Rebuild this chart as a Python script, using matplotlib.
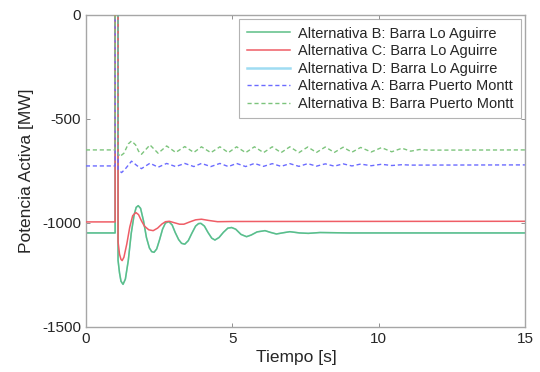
import matplotlib
matplotlib.use("Agg")
import matplotlib.pyplot as plt
from matplotlib.lines import Line2D

plt.rcParams["font.family"] = ["Liberation Sans", "DejaVu Sans"]
plt.rcParams["axes.unicode_minus"] = False

# valores (t [s], P [MW])
t_b_lo = [0, 1.0, 1.0, 1.1, 1.1, 1.15, 1.2, 1.27, 1.35, 1.45, 1.55, 1.65, 1.72, 1.79, 1.87,
          1.97, 2.07, 2.17, 2.25, 2.33, 2.42, 2.52, 2.62, 2.72, 2.84, 2.95, 3.05, 3.17, 3.27,
          3.38, 3.5, 3.62, 3.75, 3.85, 3.93, 4.05, 4.17, 4.3, 4.41, 4.55, 4.7, 4.85, 4.98,
          5.12, 5.3, 5.49, 5.65, 5.85, 6.12, 6.3, 6.51, 6.75, 6.97, 7.3, 7.6, 8.0, 9.0, 15]
p_b_lo = [-1048, -1048, 3000, 3000, -1180, -1240, -1280, -1295, -1270, -1180, -1050, -960, -925, -917, -930,
          -990, -1070, -1120, -1138, -1141, -1125, -1080, -1030, -1000, -994, -1010, -1045, -1080, -1098,
          -1102, -1085, -1050, -1015, -1003, -1002, -1015, -1045, -1073, -1082, -1070, -1045, -1025, -1022,
          -1030, -1055, -1066, -1058, -1043, -1037, -1045, -1053, -1047, -1042, -1048, -1050, -1046, -1048, -1048]

t_c_lo = [0, 1.0, 1.0, 1.1, 1.1, 1.15, 1.2, 1.24, 1.3, 1.4, 1.5, 1.6, 1.71, 1.8, 1.9, 2.0,
          2.15, 2.3, 2.45, 2.6, 2.72, 2.85, 3.0, 3.2, 3.35, 3.55, 3.75, 3.95, 4.2, 4.5, 5.0, 15]
p_c_lo = [-995, -995, 3000, 3000, -1090, -1150, -1175, -1181, -1165, -1100, -1020, -965, -950, -960, -990, -1015,
          -1033, -1037, -1025, -1005, -994, -992, -998, -1006, -1006, -995, -985, -982, -988, -994, -993, -992]

# Alternativa D queda oculta bajo la curva B
t_d_lo = t_b_lo
p_d_lo = p_b_lo

t_a_pm = [0, 1.0, 1.0, 1.1, 1.1, 1.22, 1.35, 1.56, 1.75, 1.90, 2.19, 2.47, 2.76, 3.07, 3.38, 3.69,
          3.95, 4.27, 4.58, 4.87, 5.15, 5.46, 5.76, 6.07, 6.37, 6.67, 6.97, 7.28, 7.58, 7.88, 8.18,
          8.49, 8.79, 9.09, 9.39, 9.75, 10.1, 10.45, 10.8, 11.1, 15]
p_a_pm = [-726, -726, 3000, 3000, -742, -758, -740, -703, -725, -739, -713, -732, -714, -729, -714, -729,
          -714, -729, -714, -729, -714, -729, -714, -728, -715, -728, -715, -728, -715, -727, -716,
          -727, -716, -726, -717, -725, -718, -724, -720, -722, -721]

t_b_pm = [0, 1.0, 1.0, 1.1, 1.1, 1.16, 1.3, 1.45, 1.56, 1.7, 1.8, 1.90, 2.19, 2.47, 2.76, 3.07,
          3.38, 3.69, 3.95, 4.27, 4.58, 4.87, 5.15, 5.46, 5.76, 6.07, 6.37, 6.67, 6.97, 7.28, 7.58,
          7.88, 8.18, 8.49, 8.79, 9.09, 9.39, 9.75, 10.1, 10.45, 10.8, 11.1, 11.4, 11.7, 15]
p_b_pm = [-649, -649, 3000, 3000, -665, -681, -665, -620, -606, -625, -655, -670, -625, -665, -630, -661,
          -633, -661, -634, -662, -634, -662, -634, -662, -634, -662, -634, -662, -634, -662, -635,
          -661, -635, -661, -636, -660, -637, -659, -638, -658, -641, -655, -647, -650, -649]

fig, ax = plt.subplots(figsize=(5.4, 3.72), dpi=100)
fig.subplots_adjust(left=0.159, right=0.972, top=0.960, bottom=0.121)

ax.plot(t_d_lo, p_d_lo, color="#9fdcf2", lw=1.1, zorder=1)
lb, = ax.plot(t_b_lo, p_b_lo, color="#5cbf86", lw=1.1, zorder=2)
lc, = ax.plot(t_c_lo, p_c_lo, color="#ef5d66", lw=1.1, zorder=3)
la, = ax.plot(t_a_pm, p_a_pm, color="#6b6bff", lw=1.0, ls=(0, (3, 2)), zorder=4)
lbp, = ax.plot(t_b_pm, p_b_pm, color="#7cc47c", lw=1.0, ls=(0, (3, 2)), zorder=5)

hd = Line2D([], [], color="#9fdcf2", lw=1.8)
handles = [lb, lc, hd, la, lbp]
labels = ["Alternativa B: Barra Lo Aguirre", "Alternativa C: Barra Lo Aguirre",
          "Alternativa D: Barra Lo Aguirre", "Alternativa A: Barra Puerto Montt",
          "Alternativa B: Barra Puerto Montt"]
leg = ax.legend(handles, labels, loc="upper right", fontsize=10.5, frameon=True, fancybox=False,
                edgecolor="#a0a0a0", handlelength=3.0, handletextpad=0.5, labelspacing=0.25,
                borderpad=0.5, borderaxespad=0.3)
leg.get_frame().set_linewidth(0.8)
for txt in leg.get_texts():
    txt.set_color("#262626")

ax.set_xlim(0, 15)
ax.set_ylim(-1500, 0)
ax.set_xticks([0, 5, 10, 15])
ax.set_yticks([-1500, -1000, -500, 0])
ax.tick_params(direction="in", top=True, right=True, length=3, width=0.6, color="#808080",
               labelsize=11, labelcolor="#262626")
for s in ax.spines.values():
    s.set_color("#a6a6a6")
    s.set_linewidth(1.0)

ax.set_xlabel("Tiempo [s]", fontsize=12.5, color="#262626", labelpad=2)
ax.xaxis.set_label_coords(0.48, -0.075)
ax.set_ylabel("Potencia Activa [MW]", fontsize=12.5, color="#262626", labelpad=6)

fig.savefig("out.png", dpi=100)
